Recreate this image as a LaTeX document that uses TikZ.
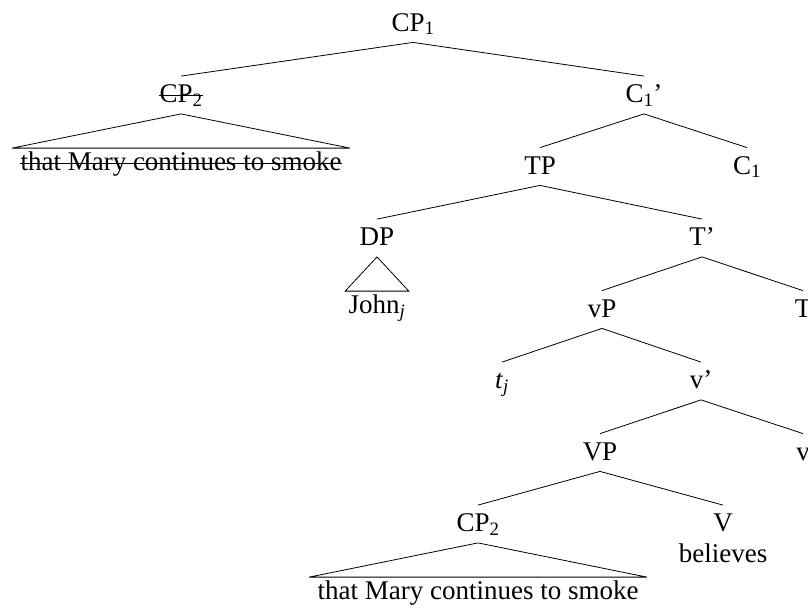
\documentclass[tikz,border=0pt]{standalone}
\usepackage{fontspec}
\setmainfont{Liberation Serif}
\usetikzlibrary{positioning}

\begin{document}
\begin{tikzpicture}[x=1pt,y=1pt,line width=0.8pt,on grid,
                    every node/.style={font=\fontsize{27}{32}\selectfont},
                    lbl/.style={inner xsep=0pt,inner ysep=8pt,text height=18pt,text depth=3pt},
                    roof/.style={inner xsep=8pt,inner ysep=4pt,text height=18pt,text depth=3pt},
                    strike/.style={line width=1pt}]
  \useasboundingbox (0,0) rectangle (808,-608);

  \node[lbl] (CP_1) at (413,-23.5)                            {CP\textsubscript{1}};
  \node[lbl] (CP_2x)  [below left=71.5pt and 232pt of CP_1]   {CP\textsubscript{2}};
  \node[lbl] (C_1bar) [below right=71.5pt and 231pt of CP_1]  {C\textsubscript{1}’};
  \node[lbl] (TP)     [below left=71.5pt and 104pt of C_1bar] {TP};
  \node[lbl] (C_1)    [below right=71.5pt and 103pt of C_1bar] {C\textsubscript{1}};
  \node[lbl] (DP)     [below left=71.5pt and 163pt of TP]     {DP};
  \node[lbl] (Tbar)   [below right=71.5pt and 162pt of TP]    {T’};
  \node[lbl] (vP)     [below left=71.5pt and 100pt of Tbar]   {vP};
  \node[lbl] (T)      [below right=71.5pt and 101pt of Tbar]  {T};
  \node[lbl] (t_j)    [below left=71.5pt and 100pt of vP]     {\textit{t}\textsubscript{\textit{j}}};
  \node[lbl] (vbar)   [below right=71.5pt and 99pt of vP]     {v’};
  \node[lbl] (VP)     [below left=71.5pt and 101pt of vbar]   {VP};
  \node[lbl] (v)      [below right=71.5pt and 102pt of vbar]  {v};
  \node[lbl] (CP_2)   [below left=71.5pt and 122pt of VP]     {CP\textsubscript{2}};
  \node[lbl] (V)      [below right=71.5pt and 123pt of VP]    {V};
  \node[lbl] (believes) [below=31pt of V]                     {believes};

  % material under the roofs
  \node[roof] (clause_x) [below=68pt of CP_2x] {that Mary continues to smoke};
  \node[roof,inner xsep=3pt] (John) [below=68pt of DP] {John\textsubscript{\textit{j}}};
  \node[roof] (clause) [below=68pt of CP_2] {that Mary continues to smoke};

  \path (CP_1.south)   edge (CP_2x.north)  edge (C_1bar.north)
        (C_1bar.south) edge (TP.north)     edge (C_1.north)
        (TP.south)     edge (DP.north)     edge (Tbar.north)
        (Tbar.south)   edge (vP.north)     edge (T.north)
        (vP.south)     edge (t_j.north)    edge (vbar.north)
        (vbar.south)   edge (VP.north)     edge (v.north)
        (VP.south)     edge (CP_2.north)   edge (V.north);

  \draw (CP_2x.south) -- (clause_x.north west) -- (clause_x.north east) -- cycle;
  \draw (DP.south) -- (John.north west) -- (John.north east) -- cycle;
  \draw (CP_2.south) -- (clause.north west) -- (clause.north east) -- cycle;

  % struck-out copy
  \draw[strike] (CP_2x.west) -- (CP_2x.east);
  \draw[strike,shorten <=8pt,shorten >=8pt] (clause_x.west) -- (clause_x.east);
\end{tikzpicture}
\end{document}
